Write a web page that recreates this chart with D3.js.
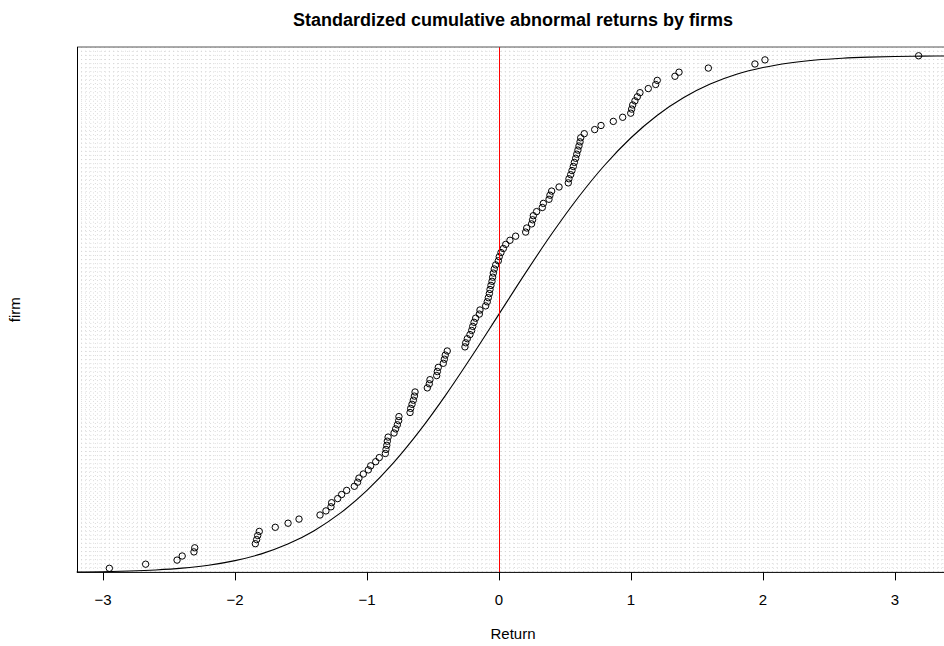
<!DOCTYPE html>
<html>
<head>
<meta charset="utf-8">
<script src="https://cdn.jsdelivr.net/npm/d3@7"></script>
<style>
  body { margin: 0; background: #fff; }
  svg { display: block; font-family: "Liberation Sans", Arial, sans-serif; }
</style>
</head>
<body>
<div id="chart"></div>
<script>
// standardized CARs, sorted (one per firm)
const returns = [
    -2.952, -2.677, -2.439, -2.400, -2.311, -2.305, -1.846, -1.836, -1.828, -1.816,
    -1.695, -1.598, -1.515, -1.356, -1.311, -1.273, -1.268, -1.222, -1.192, -1.154,
    -1.096, -1.071, -1.061, -1.028, -0.990, -0.972, -0.934, -0.907, -0.861, -0.856,
    -0.850, -0.846, -0.840, -0.795, -0.783, -0.770, -0.760, -0.758, -0.674, -0.669,
    -0.659, -0.649, -0.641, -0.636, -0.543, -0.528, -0.523, -0.472, -0.467, -0.460,
    -0.422, -0.414, -0.407, -0.392, -0.258, -0.252, -0.240, -0.220, -0.207, -0.199,
    -0.189, -0.177, -0.149, -0.144, -0.101, -0.089, -0.081, -0.073, -0.068, -0.061,
    -0.053, -0.048, -0.043, -0.036, -0.025, -0.005, 0.002, 0.015, 0.033, 0.051,
    0.083, 0.126, 0.202, 0.210, 0.247, 0.255, 0.260, 0.285, 0.328, 0.336,
    0.379, 0.386, 0.399, 0.455, 0.525, 0.530, 0.543, 0.553, 0.563, 0.571,
    0.581, 0.589, 0.598, 0.606, 0.614, 0.619, 0.646, 0.725, 0.773, 0.866,
    0.937, 0.998, 1.005, 1.013, 1.030, 1.048, 1.068, 1.131, 1.187, 1.199,
    1.333, 1.364, 1.586, 1.939, 2.015, 3.179
];

// reference normal cdf, read at fixed x positions
const curveX = [-3.2, -3.0, -2.8, -2.6, -2.4, -2.2, -2.0, -1.8, -1.6, -1.4, -1.2, -1.0,
    -0.8, -0.6, -0.4, -0.2, 0, 0.2, 0.4, 0.6, 0.8, 1.0, 1.2, 1.4, 1.6, 1.8, 2.0,
    2.2, 2.4, 2.6, 2.8, 3.0, 3.2, 3.4];
const curveY = [0.0007, 0.00135, 0.0026, 0.0047, 0.0082, 0.0139, 0.0228, 0.0359, 0.0548,
    0.0808, 0.1151, 0.1587, 0.2119, 0.2743, 0.3446, 0.4207, 0.5, 0.5793, 0.6554,
    0.7257, 0.7881, 0.8413, 0.8849, 0.9192, 0.9452, 0.9641, 0.9772, 0.9861, 0.9918,
    0.9953, 0.9974, 0.99865, 0.99931, 0.99966];

const xTicks = [-3, -2, -1, 0, 1, 2, 3];
const refLine = 0;

const width = 944;
const height = 646;
const plotL = 77, plotR = 952, plotT = 47, plotB = 572.4;

const svg = d3.select('#chart').append('svg')
    .attr('width', width)
    .attr('height', height);

const x = d3.scaleLinear()
    .domain([-3.197, 3.432])
    .range([plotL, plotR]);

const y = d3.scaleLinear()
    .domain([0, 1.017])
    .range([plotB, plotT]);

// dotted grid
const gx = d3.range(1, 190).map(i => plotL + i * (plotR - plotL) / 190);
const gy = d3.range(1, 126).map(i => plotT + i * (plotB - plotT) / 126);

const grid = svg.append('g')
    .attr('stroke', '#d3d3d3')
    .attr('stroke-width', 0.8)
    .attr('stroke-dasharray', '1,3');

grid.selectAll('.gv')
    .data(gx)
    .enter()
    .append('line')
    .attr('x1', d => d)
    .attr('x2', d => d)
    .attr('y1', plotT)
    .attr('y2', plotB);

grid.selectAll('.gh')
    .data(gy)
    .enter()
    .append('line')
    .attr('x1', plotL)
    .attr('x2', plotR)
    .attr('y1', d => d)
    .attr('y2', d => d);

// normal curve
const line = d3.line()
    .x((d, i) => x(curveX[i]))
    .y(d => y(d))
    .curve(d3.curveMonotoneX);

svg.append('path')
    .datum(curveY)
    .attr('d', line)
    .attr('fill', 'none')
    .attr('stroke', '#000')
    .attr('stroke-width', 1.1);

// points
const n = returns.length;
svg.selectAll('.pt')
    .data(returns)
    .enter()
    .append('circle')
    .attr('class', 'pt')
    .attr('cx', d => x(d))
    .attr('cy', (d, i) => y((i + 1) / n))
    .attr('r', 3.2)
    .attr('fill', 'none')
    .attr('stroke', '#000')
    .attr('stroke-width', 1);

// red line at zero
svg.append('rect')
    .attr('x', Math.round(x(refLine)))
    .attr('y', plotT)
    .attr('width', 1)
    .attr('height', plotB - plotT)
    .attr('fill', '#ff0000');

// box
svg.append('line')
    .attr('x1', plotL).attr('x2', width)
    .attr('y1', plotT).attr('y2', plotT)
    .attr('stroke', '#555');
svg.append('line')
    .attr('x1', plotL + 0.5).attr('x2', plotL + 0.5)
    .attr('y1', plotT).attr('y2', plotB)
    .attr('stroke', '#000');

// x axis
const axis = svg.append('g');
axis.append('line')
    .attr('x1', plotL)
    .attr('x2', width)
    .attr('y1', plotB)
    .attr('y2', plotB)
    .attr('stroke', '#000');

axis.selectAll('.tick')
    .data(xTicks)
    .enter()
    .append('line')
    .attr('x1', d => Math.round(x(d)) + 0.5)
    .attr('x2', d => Math.round(x(d)) + 0.5)
    .attr('y1', plotB)
    .attr('y2', plotB + 8)
    .attr('stroke', '#000');

axis.selectAll('.lab')
    .data(xTicks)
    .enter()
    .append('text')
    .attr('x', d => x(d))
    .attr('y', 605)
    .attr('text-anchor', 'middle')
    .style('font-size', '15px')
    .text(d => d3.format('')(d));

// titles
svg.append('text')
    .attr('x', 513)
    .attr('y', 26)
    .attr('text-anchor', 'middle')
    .style('font-size', '18px')
    .style('font-weight', 'bold')
    .text('Standardized cumulative abnormal returns by firms');

svg.append('text')
    .attr('x', 513)
    .attr('y', 639)
    .attr('text-anchor', 'middle')
    .style('font-size', '15px')
    .text('Return');

svg.append('text')
    .attr('transform', `translate(20, ${(plotT + plotB) / 2}) rotate(-90)`)
    .attr('text-anchor', 'middle')
    .style('font-size', '15px')
    .text('firm');
</script>
</body>
</html>
